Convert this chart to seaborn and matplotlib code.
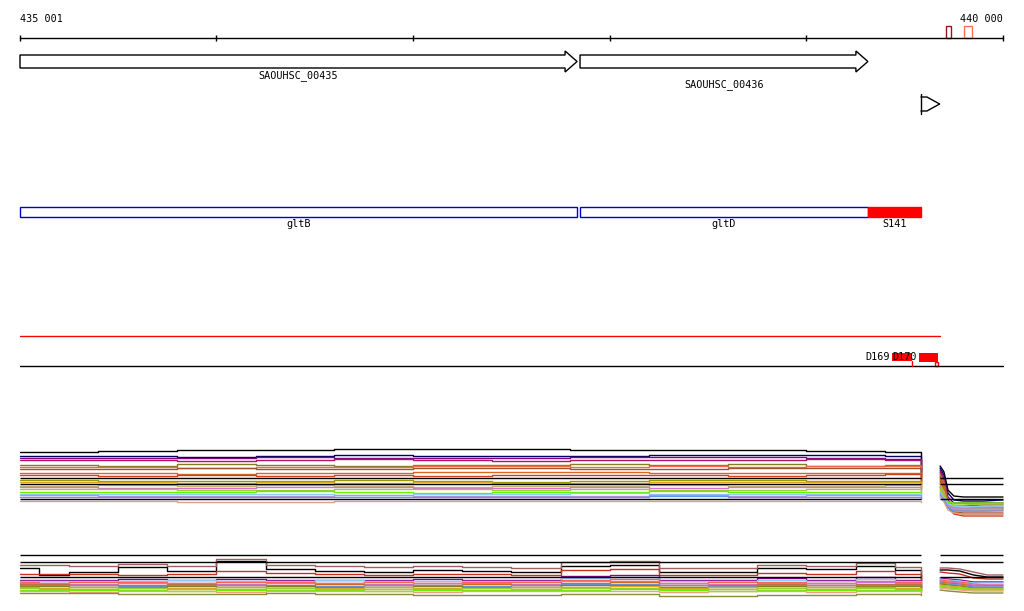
import pandas as pd
import matplotlib.pyplot as plt
import seaborn as sns
from matplotlib.patches import Polygon, Rectangle

# ---- region / ruler ----
REGION = [435001, 440000]
RULER_TICKS = [435001, 436000, 437000, 438000, 439000, 440000]
RULER_LABELS = ['435 001', '440 000']

# ---- genes (arrows) ----
GENE_NAMES = ['SAOUHSC_00435', 'SAOUHSC_00436']
GENE_START = [435001, 437849]
GENE_END = [437834, 439313]
PROMOTER_POS = 439583

# ---- small marks on ruler ----
MARK_START = [439710, 439801]
MARK_END = [439735, 439842]
MARK_COLORS = ['#8b1a1a', '#ff7050']

# ---- features ----
FEAT_NAMES = ['gltB', 'gltD', 'S141']
FEAT_START = [435001, 437849, 439313]
FEAT_END = [437834, 439313, 439583]
FEAT_FILLED = [False, False, True]

# ---- sites track ----
RED_LINE = [435001, 439680]
SITE_NAMES = ['D169', 'D170', '']
SITE_START = [439303, 439435, 439573]
SITE_END = [439435, 439537, 439669]

# ---- coverage track 1 ----
X1L = [435001, 435400, 435800, 436200, 436600, 437000, 437400, 437800, 438200, 438600, 439000, 439400, 439584]
X1R = [439680, 439700, 439720, 439750, 439800, 439900, 440000]
T1_COLORS = {
    'black': 'black', 'navy': '#000060', 'purple': '#800080', 'violet': '#b0106a',
    'olive': '#808020', 'tomato': '#ff6347', 'sienna': '#a0522d', 'chocolate': '#d2691e',
    'orangered': '#d2401e', 'olive2': '#999900', 'goldenrod': '#daa520', 'khaki': '#bdb76b',
    'orchid': '#da70d6', 'yellowgreen': '#9acd32', 'lawngreen': '#66ee00', 'skyblue': '#87cefa',
    'plum': '#c090d0', 'cornflower': '#6495ed', 'rosy': '#d8a090',
}
T1_LEFT = {
    'black': [452, 451, 450, 450, 449, 449, 449, 450, 450, 450, 451, 452, 470],
    'navy': [456, 456, 457, 456, 455, 456, 456, 456, 455, 455, 455, 456, 472],
    'purple': [458, 458, 458, 457, 458, 458, 458, 457, 457, 457, 458, 459, 474],
    'violet': [460, 460, 461, 460, 459, 460, 461, 460, 460, 460, 459, 460, 476],
    'olive': [465, 466, 464, 465, 466, 465, 465, 464, 465, 464, 466, 465, 478],
    'tomato': [467, 467, 468, 467, 467, 466, 466, 467, 466, 467, 466, 466, 480],
    'sienna': [469, 469, 468, 469, 469, 468, 468, 469, 469, 468, 468, 468, 482],
    'chocolate': [473, 473, 474, 473, 473, 472, 472, 472, 473, 473, 473, 473, 484],
    'orangered': [475, 476, 475, 476, 475, 476, 475, 475, 475, 476, 475, 474, 486],
    'olive2': [480, 481, 481, 481, 480, 481, 482, 481, 480, 480, 481, 481, 488],
    'goldenrod': [482, 482, 483, 482, 483, 482, 483, 483, 482, 482, 482, 482, 489],
    'khaki': [486, 485, 486, 485, 486, 487, 486, 486, 485, 486, 486, 485, 490],
    'orchid': [487, 488, 488, 487, 487, 488, 488, 487, 488, 487, 487, 487, 491],
    'yellowgreen': [489, 489, 490, 490, 489, 489, 490, 489, 490, 490, 489, 489, 492],
    'lawngreen': [492, 492, 492, 491, 492, 493, 492, 492, 491, 492, 492, 492, 494],
    'skyblue': [494, 494, 494, 494, 495, 494, 494, 493, 494, 494, 494, 494, 496],
    'plum': [495, 496, 496, 496, 495, 496, 496, 496, 495, 496, 495, 495, 497],
    'cornflower': [497, 497, 497, 497, 497, 497, 497, 497, 496, 497, 497, 497, 499],
    'rosy': [501, 501, 502, 502, 501, 501, 501, 501, 501, 501, 501, 501, 502],
}
T1_RIGHT = {
    'black': [466, 472, 490, 496, 497, 497, 497],
    'navy': [468, 475, 493, 500, 501, 501, 500],
    'purple': [470, 478, 497, 503, 503, 503, 503],
    'violet': [472, 480, 500, 506, 506, 505, 505],
    'olive': [474, 482, 502, 508, 508, 508, 508],
    'tomato': [476, 484, 504, 510, 511, 511, 510],
    'sienna': [477, 486, 505, 512, 513, 513, 513],
    'chocolate': [479, 488, 506, 513, 514, 514, 514],
    'orangered': [481, 490, 507, 514, 516, 516, 516],
    'olive2': [483, 491, 505, 509, 509, 508, 508],
    'goldenrod': [484, 492, 506, 510, 510, 510, 510],
    'khaki': [486, 494, 503, 507, 507, 507, 506],
    'orchid': [487, 495, 504, 508, 508, 507, 507],
    'yellowgreen': [488, 496, 503, 505, 505, 504, 504],
    'lawngreen': [490, 497, 502, 503, 503, 503, 503],
    'skyblue': [492, 498, 504, 506, 507, 506, 506],
    'plum': [493, 499, 506, 509, 509, 509, 509],
    'cornflower': [495, 500, 508, 511, 511, 511, 511],
    'rosy': [497, 502, 510, 513, 514, 514, 514],
}
T1_FLAT = [478, 484, 499]

# ---- coverage track 2 ----
X2L = [435001, 435100, 435250, 435500, 435750, 436000, 436250, 436500, 436750, 437000, 437250,
       437500, 437750, 438000, 438250, 438500, 438750, 439000, 439250, 439450, 439584]
X2R = [439680, 439720, 439780, 439850, 439920, 440000]
T2_COLORS = {
    'black': 'black', 'rosy': '#a06060', 'firebrick': '#c83020', 'purple': '#900090',
    'skyblue': '#87cefa', 'tomato': '#ff6347', 'orchid': '#da70d6', 'chocolate': '#d2691e',
    'cornflower': '#6495ed', 'olive': '#808020', 'goldenrod': '#daa520', 'yellowgreen': '#9acd32',
    'lawngreen': '#66ee00', 'salmon': '#f0a080', 'darkolive': '#8b8b3a',
}
T2_LEFT = {
    'black': [568, 575, 572, 567, 571, 561, 569, 571, 572, 570, 571, 572, 566, 565, 572, 572, 568, 569, 566, 570, 580],
    'rosy': [565, 565, 566, 564, 566, 559, 565, 566, 567, 566, 567, 568, 562, 561, 568, 568, 565, 566, 563, 567, 578],
    'firebrick': [574, 574, 574, 575, 574, 571, 573, 574, 575, 574, 574, 575, 570, 569, 575, 575, 573, 574, 571, 574, 582],
    'purple': [580, 580, 580, 579, 580, 579, 580, 580, 580, 579, 580, 580, 576, 575, 580, 580, 578, 580, 577, 580, 585],
    'skyblue': [581, 581, 581, 581, 580, 581, 581, 580, 581, 581, 581, 581, 578, 577, 581, 581, 580, 581, 579, 581, 586],
    'tomato': [582, 583, 582, 582, 583, 582, 582, 583, 582, 583, 582, 582, 580, 579, 583, 582, 582, 583, 581, 582, 587],
    'orchid': [583, 583, 584, 583, 583, 584, 583, 583, 584, 583, 583, 584, 581, 581, 583, 584, 583, 583, 582, 583, 588],
    'chocolate': [584, 584, 585, 585, 584, 585, 585, 584, 585, 585, 584, 585, 583, 582, 585, 585, 584, 585, 584, 584, 589],
    'cornflower': [585, 585, 585, 586, 585, 585, 586, 586, 585, 585, 586, 585, 584, 584, 585, 586, 585, 585, 585, 585, 589],
    'olive': [586, 586, 587, 587, 586, 587, 586, 587, 587, 586, 587, 587, 585, 585, 587, 587, 586, 587, 586, 586, 590],
    'goldenrod': [587, 588, 587, 588, 588, 587, 588, 588, 587, 588, 588, 587, 587, 586, 588, 587, 588, 587, 587, 588, 591],
    'yellowgreen': [588, 589, 589, 588, 589, 589, 588, 589, 589, 589, 588, 589, 588, 588, 589, 589, 588, 589, 588, 589, 591],
    'lawngreen': [590, 590, 590, 590, 591, 590, 590, 590, 591, 590, 590, 590, 590, 589, 590, 591, 590, 590, 590, 590, 592],
    'salmon': [591, 591, 592, 591, 591, 592, 591, 591, 591, 592, 591, 591, 591, 591, 592, 591, 591, 592, 591, 591, 593],
    'darkolive': [593, 593, 593, 594, 594, 594, 593, 594, 594, 595, 595, 595, 594, 594, 596, 596, 595, 595, 594, 594, 595],
}
T2_RIGHT = {
    'black': [570, 570, 571, 575, 577, 577],
    'rosy': [568, 568, 569, 572, 575, 575],
    'firebrick': [572, 573, 574, 578, 579, 579],
    'purple': [578, 579, 580, 582, 582, 582],
    'skyblue': [579, 580, 581, 583, 583, 583],
    'tomato': [580, 581, 582, 584, 585, 585],
    'orchid': [581, 582, 583, 585, 585, 585],
    'chocolate': [582, 583, 584, 586, 586, 586],
    'cornflower': [583, 584, 585, 587, 587, 587],
    'olive': [584, 585, 586, 588, 588, 588],
    'goldenrod': [585, 586, 587, 589, 589, 589],
    'yellowgreen': [586, 587, 588, 589, 589, 589],
    'lawngreen': [587, 588, 589, 590, 590, 590],
    'salmon': [588, 589, 590, 591, 591, 591],
    'darkolive': [590, 591, 592, 593, 593, 593],
}
T2_FLAT = [555, 562, 577]


def long_table(left, right, xl, xr):
    rows = []
    for name in left:
        for x, y in zip(xl, left[name]):
            rows.append((name, 'L', x, y))
        for x, y in zip(xr, right[name]):
            rows.append((name, 'R', x, y))
    return pd.DataFrame(rows, columns=['series', 'part', 'pos', 'y'])


sns.set_theme(style='white')
plt.rcParams['font.family'] = ['DejaVu Sans Mono']
plt.rcParams['text.color'] = 'black'
FS = 7.3

fig = plt.figure(figsize=(10.24, 6.11), dpi=100)
ax = fig.add_axes([0, 0, 1, 1])
ax.set_xlim(434899.3, 440106.8)
ax.set_ylim(611, 0)
ax.axis('off')

# ruler
ax.plot(REGION, [38, 38], color='black', lw=1)
ax.vlines(RULER_TICKS, 35, 41, color='black', lw=1)
ax.text(REGION[0], 19, RULER_LABELS[0], fontsize=FS, ha='left', va='center', color='black')
ax.text(REGION[1] - 110, 19, RULER_LABELS[1], fontsize=FS, ha='center', va='center', color='black')
for s, e, c in zip(MARK_START, MARK_END, MARK_COLORS):
    ax.add_patch(Rectangle((s, 26), e - s, 12, fill=False, ec=c, lw=1))

# gene arrows
head = 61
for i, (name, s, e) in enumerate(zip(GENE_NAMES, GENE_START, GENE_END)):
    pts = [(s, 55), (e - head, 55), (e - head, 51), (e, 61.5), (e - head, 72), (e - head, 68), (s, 68)]
    ax.add_patch(Polygon(pts, closed=True, fill=False, ec='black', lw=1))
    ax.text((s + e) / 2, 76 + 9 * i, name, fontsize=FS, ha='center', va='center', color='black')

# promoter glyph
ax.plot([PROMOTER_POS, PROMOTER_POS], [94, 114], color='black', lw=1)
ax.plot([PROMOTER_POS, PROMOTER_POS + 30, PROMOTER_POS + 95, PROMOTER_POS + 30, PROMOTER_POS],
        [97, 97, 104, 111, 111], color='black', lw=1)

# feature bars
for name, s, e, filled in zip(FEAT_NAMES, FEAT_START, FEAT_END, FEAT_FILLED):
    if filled:
        ax.add_patch(Rectangle((s, 207), e - s, 10, fc='red', ec='red', lw=1))
    else:
        ax.add_patch(Rectangle((s, 207), e - s, 10, fc='white', ec='#0000cc', lw=1))
    ax.text((s + e) / 2, 224, name, fontsize=FS, ha='center', va='center', color='black')

# sites track
ax.plot(RED_LINE, [336, 336], color='red', lw=1)
ax.plot(REGION, [366, 366], color='black', lw=1)
ax.add_patch(Rectangle((SITE_START[1], 353), SITE_END[1] - SITE_START[1], 8, fc='red', ec='none'))
ax.add_patch(Rectangle((SITE_START[2], 353), SITE_END[2] - SITE_START[2], 9, fc='red', ec='none'))
ax.plot([SITE_END[1], SITE_END[1]], [361, 366], color='red', lw=1)
ax.add_patch(Rectangle((SITE_END[2] - 15, 362), 15, 4, fill=False, ec='red', lw=1))
ax.text(SITE_START[0] - 5, 357, SITE_NAMES[0], fontsize=FS, ha='left', va='center', color='black')
ax.text(SITE_START[1], 357, SITE_NAMES[1], fontsize=FS, ha='left', va='center', color='black')

# coverage tracks
for left, right, xl, xr, colors, flat in [
        (T1_LEFT, T1_RIGHT, X1L, X1R, T1_COLORS, T1_FLAT),
        (T2_LEFT, T2_RIGHT, X2L, X2R, T2_COLORS, T2_FLAT)]:
    df = long_table(left, right, xl, xr)
    sns.lineplot(data=df[df['part'] == 'L'], x='pos', y='y', hue='series', palette=colors,
                 units='series', estimator=None, drawstyle='steps-post', lw=1, legend=False, ax=ax)
    sns.lineplot(data=df[df['part'] == 'R'], x='pos', y='y', hue='series', palette=colors,
                 units='series', estimator=None, lw=1, legend=False, ax=ax)
    ax.hlines(flat, xl[0], xl[-1], color='black', lw=1)
    ax.hlines(flat, xr[0], xr[-1], color='black', lw=1)

ax.set_xlim(434899.3, 440106.8)
ax.set_ylim(611, 0)
ax.axis('off')
fig.savefig('out.png', dpi=100)
